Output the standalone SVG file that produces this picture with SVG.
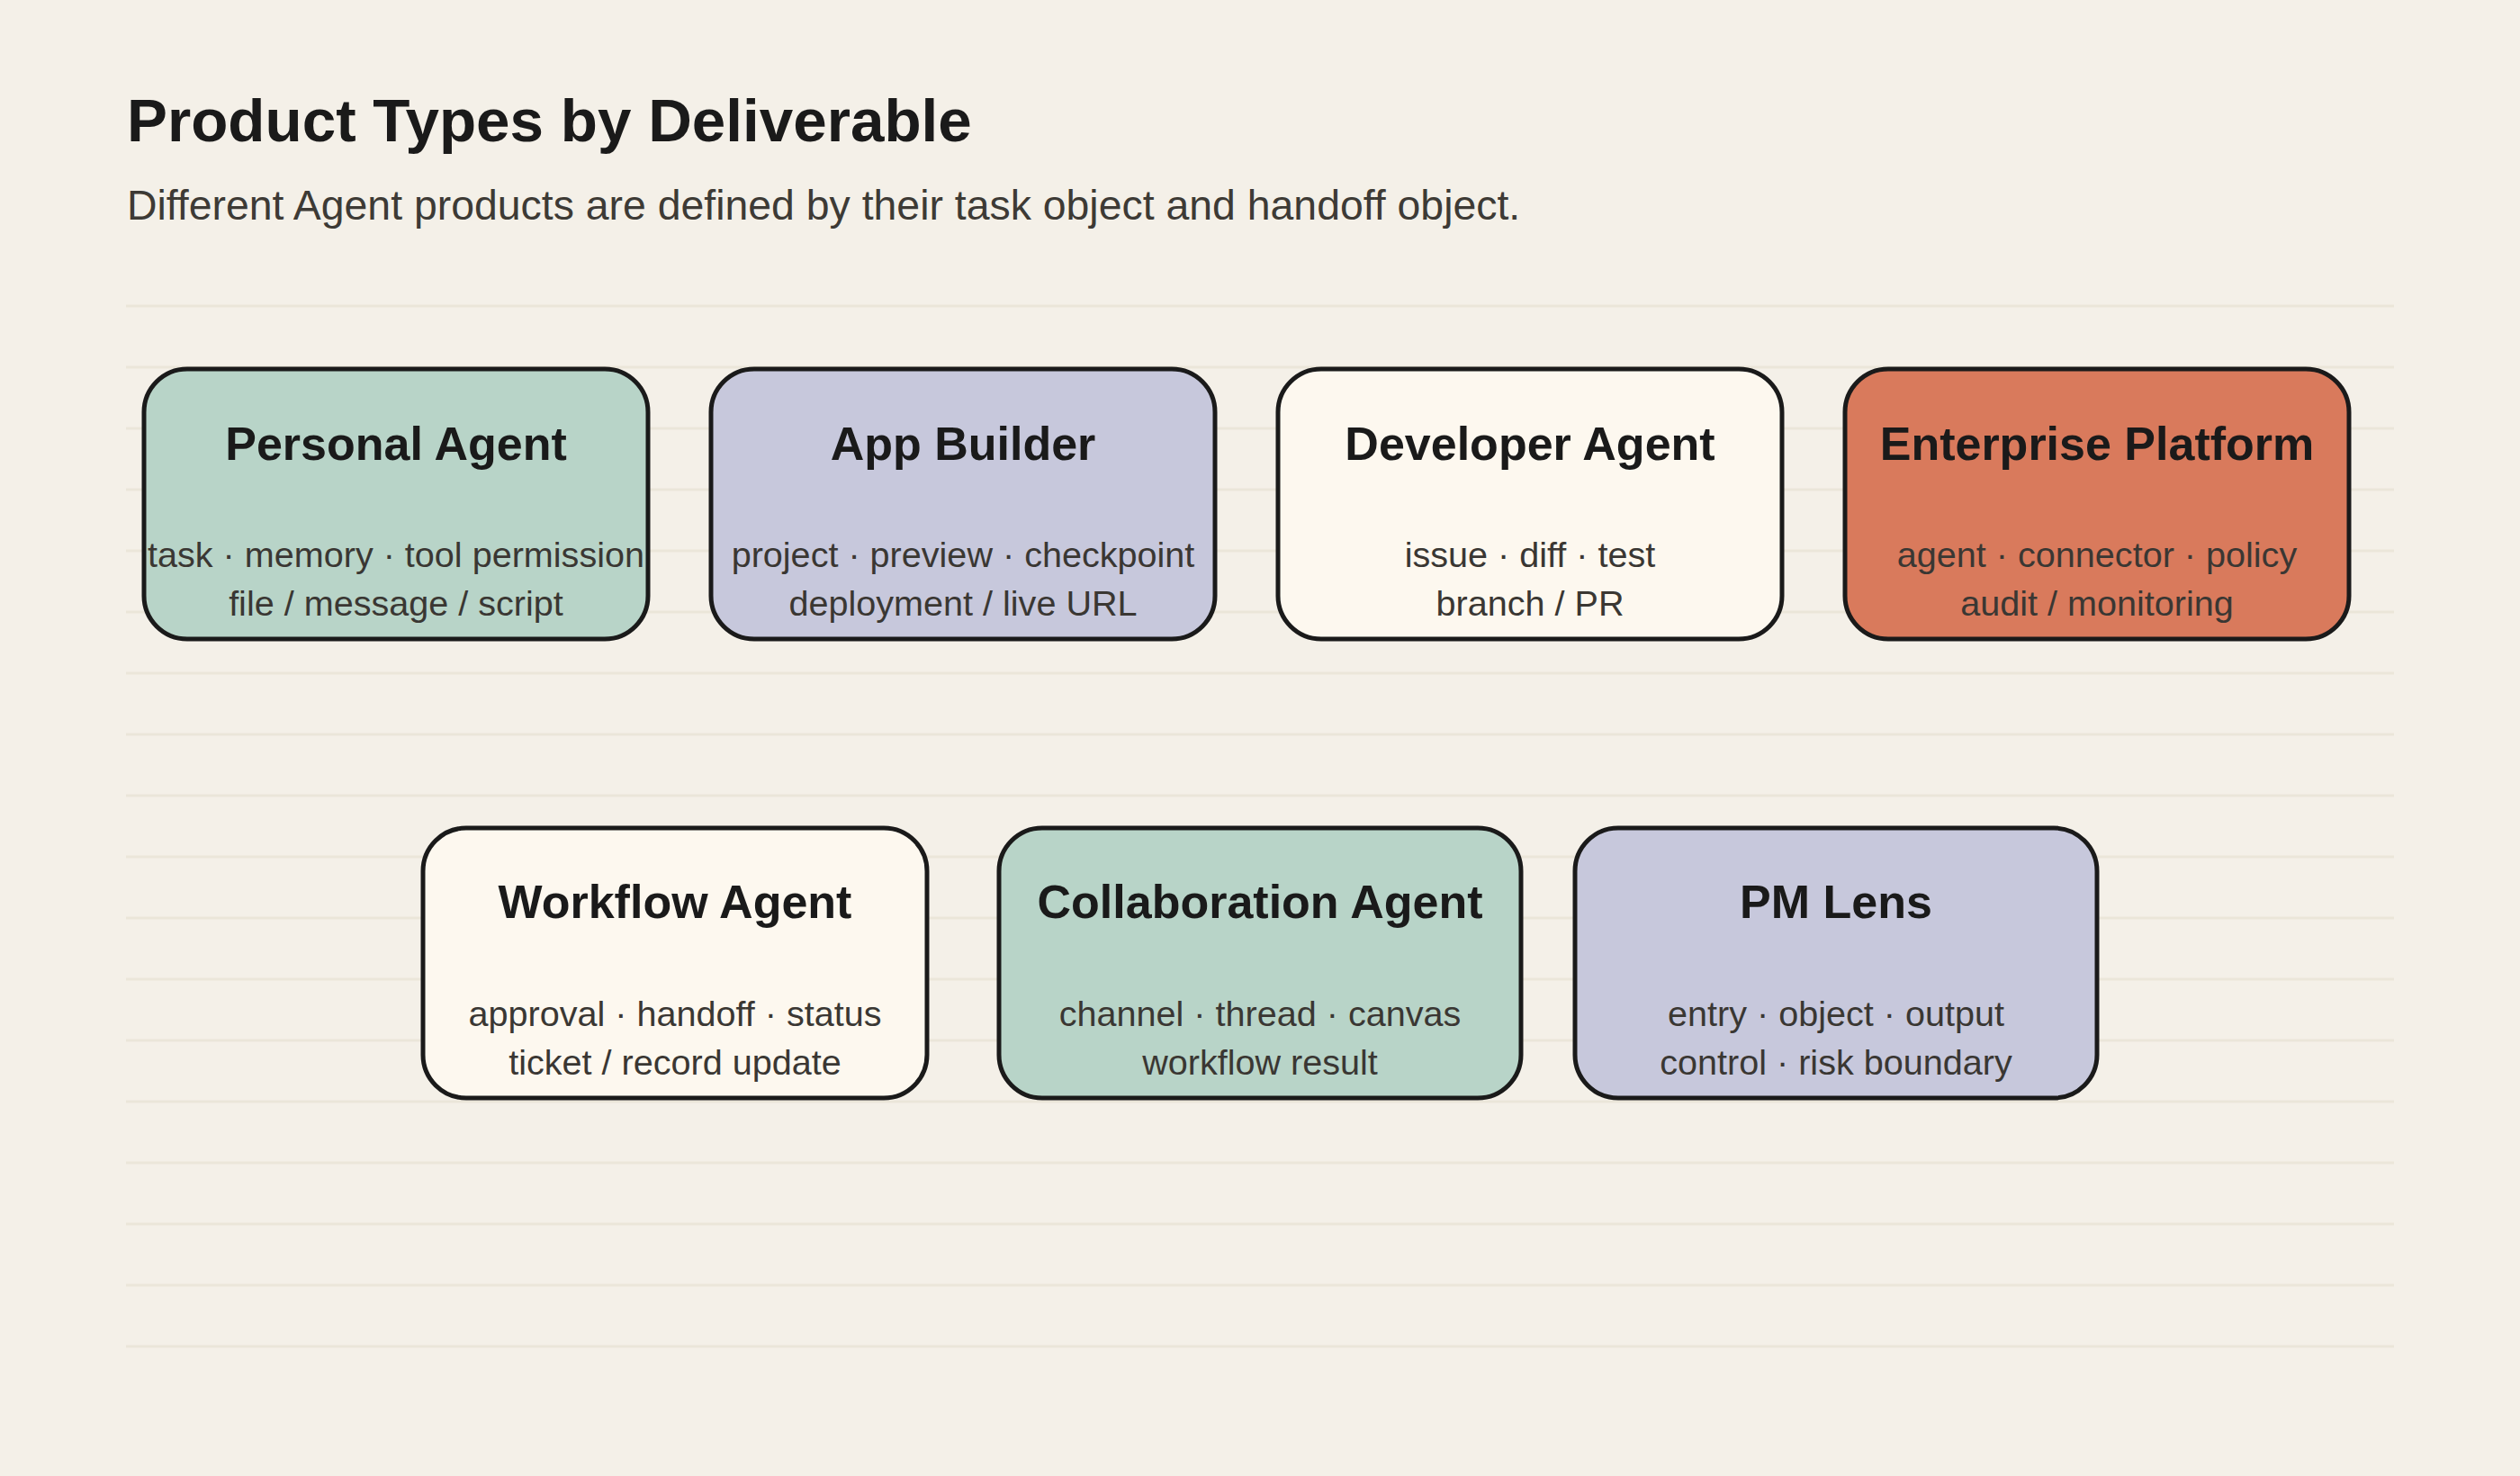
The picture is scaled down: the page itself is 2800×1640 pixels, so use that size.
<svg xmlns="http://www.w3.org/2000/svg" width="2800" height="1640" viewBox="0 0 2800 1640">
<style>
.bg{fill:#f4f0e8}
.grid line{stroke:#ebe6d9;stroke-width:3}
.box{stroke:#1a1a1a;stroke-width:5}
.green{fill:#b8d4c8}
.lav{fill:#c7c8dc}
.cream{fill:#fdf8ef}
.orange{fill:#d97a5c}
.h{font-family:"Liberation Sans",Arial,sans-serif;font-weight:bold;font-size:52px;fill:#1a1a1a;text-anchor:middle}
.s{font-family:"Liberation Sans",Arial,sans-serif;font-size:39.6px;fill:#3a3733;text-anchor:middle}
.title{font-family:"Liberation Sans",Arial,sans-serif;font-weight:bold;font-size:67.4px;fill:#1a1a1a}
.sub{font-family:"Liberation Sans",Arial,sans-serif;font-size:46.4px;fill:#3d3a35}
</style>
<rect class="bg" x="0" y="0" width="2800" height="1640"/>
<g class="grid">
<line x1="140" y1="340" x2="2660" y2="340"/>
<line x1="140" y1="408" x2="2660" y2="408"/>
<line x1="140" y1="476" x2="2660" y2="476"/>
<line x1="140" y1="544" x2="2660" y2="544"/>
<line x1="140" y1="612" x2="2660" y2="612"/>
<line x1="140" y1="680" x2="2660" y2="680"/>
<line x1="140" y1="748" x2="2660" y2="748"/>
<line x1="140" y1="816" x2="2660" y2="816"/>
<line x1="140" y1="884" x2="2660" y2="884"/>
<line x1="140" y1="952" x2="2660" y2="952"/>
<line x1="140" y1="1020" x2="2660" y2="1020"/>
<line x1="140" y1="1088" x2="2660" y2="1088"/>
<line x1="140" y1="1156" x2="2660" y2="1156"/>
<line x1="140" y1="1224" x2="2660" y2="1224"/>
<line x1="140" y1="1292" x2="2660" y2="1292"/>
<line x1="140" y1="1360" x2="2660" y2="1360"/>
<line x1="140" y1="1428" x2="2660" y2="1428"/>
<line x1="140" y1="1496" x2="2660" y2="1496"/>
</g>
<text class="title" x="141" y="157">Product Types by Deliverable</text>
<text class="sub" x="141" y="244">Different Agent products are defined by their task object and handoff object.</text>
<g id="connectors"></g>
<g id="personal-agent">
<rect class="box green" x="160" y="410" width="560" height="300" rx="48"/>
<text class="h" x="440" y="511">Personal Agent</text>
<text class="s" x="440" y="630">task · memory · tool permission</text>
<text class="s" x="440" y="684">file / message / script</text>
</g>
<g id="app-builder">
<rect class="box lav" x="790" y="410" width="560" height="300" rx="48"/>
<text class="h" x="1070" y="511">App Builder</text>
<text class="s" x="1070" y="630">project · preview · checkpoint</text>
<text class="s" x="1070" y="684">deployment / live URL</text>
</g>
<g id="developer-agent">
<rect class="box cream" x="1420" y="410" width="560" height="300" rx="48"/>
<text class="h" x="1700" y="511">Developer Agent</text>
<text class="s" x="1700" y="630">issue · diff · test</text>
<text class="s" x="1700" y="684">branch / PR</text>
</g>
<g id="enterprise-platform">
<rect class="box orange" x="2050" y="410" width="560" height="300" rx="48"/>
<text class="h" x="2330" y="511">Enterprise Platform</text>
<text class="s" x="2330" y="630">agent · connector · policy</text>
<text class="s" x="2330" y="684">audit / monitoring</text>
</g>
<g id="workflow-agent">
<rect class="box cream" x="470" y="920" width="560" height="300" rx="48"/>
<text class="h" x="750" y="1020">Workflow Agent</text>
<text class="s" x="750" y="1140">approval · handoff · status</text>
<text class="s" x="750" y="1194">ticket / record update</text>
</g>
<g id="collaboration-agent">
<rect class="box green" x="1110" y="920" width="580" height="300" rx="48"/>
<text class="h" x="1400" y="1020">Collaboration Agent</text>
<text class="s" x="1400" y="1140">channel · thread · canvas</text>
<text class="s" x="1400" y="1194">workflow result</text>
</g>
<g id="pm-lens">
<rect class="box lav" x="1750" y="920" width="580" height="300" rx="48"/>
<text class="h" x="2040" y="1020">PM Lens</text>
<text class="s" x="2040" y="1140">entry · object · output</text>
<text class="s" x="2040" y="1194">control · risk boundary</text>
</g>
</svg>
